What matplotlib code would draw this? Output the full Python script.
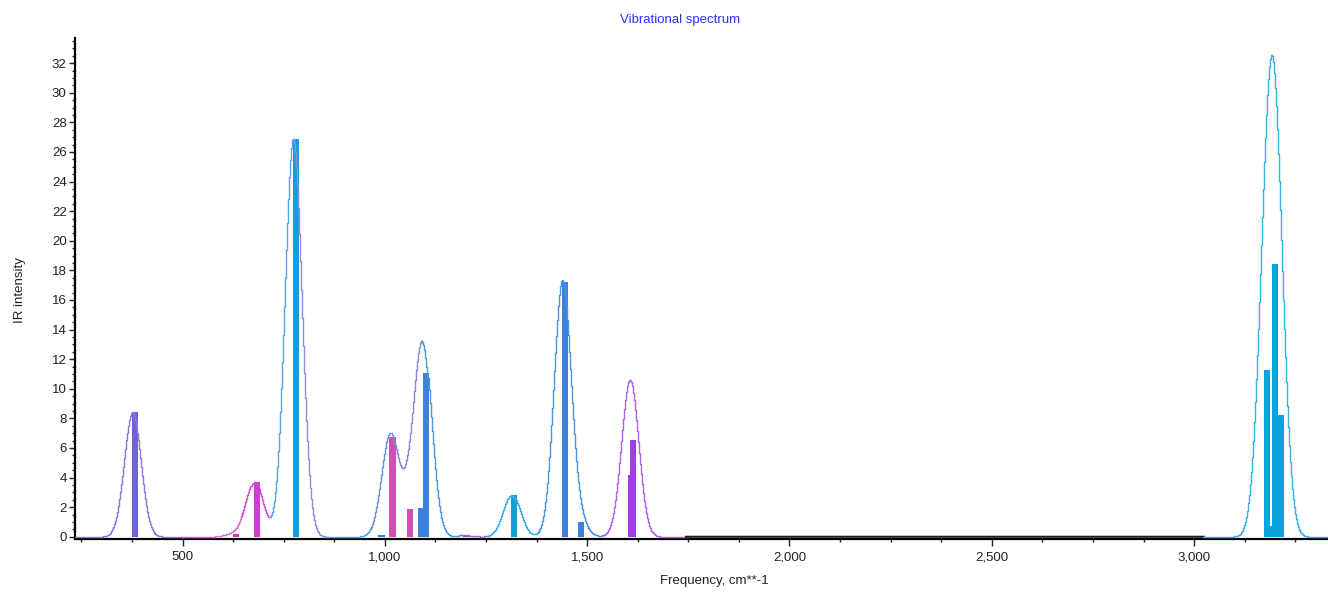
import numpy as np
import matplotlib
matplotlib.use("Agg")
import matplotlib.pyplot as plt
from matplotlib.ticker import MultipleLocator, StrMethodFormatter

# stick spectrum (frequency = left edge of each bar)
freqs = [375, 625, 676, 772, 984, 1011, 1055, 1082.5, 1093.5, 1194,
         1312, 1437, 1477, 1600, 1606, 3172, 3188.5, 3193, 3207.5]
intens = [8.4, 0.2, 3.7, 26.9, 0.1, 6.75, 1.87, 1.94, 11.06, 0.1,
          2.8, 17.2, 1.03, 4.2, 6.53, 11.3, 0.7, 18.4, 8.2]
bar_colors = ["#6c64d6", "#d23cb8", "#d03cd6", "#0ea0de", "#2a80d4", "#d050b2",
              "#d050b2", "#3c82da", "#3c82da", "#9040d0", "#10a0d2", "#3c82da",
              "#3c82da", "#a43ee4", "#a43ee4", "#0ca2de", "#0ca2de", "#0ca2de",
              "#0ca2de"]

# colour of the envelope line, by frequency range
env_breaks = [234, 500, 648, 716, 776, 855, 965, 1030, 1090, 1190, 1255,
              1380, 1540, 1746, 3023, 3331]
env_colors = ["#8a78e0", "#e064d4", "#d04ad8", "#5aa2ea", "#9a86dc", "#44ace8",
              "#6c8ee0", "#9480d8", "#4a98e4", "#a060e0", "#34ace6", "#4c92e2",
              "#b062f0", "#202020", "#34b0e8"]

half_width = 21.0   # gaussian broadening used for the envelope, cm-1
bar_w = 15.5

fig = plt.figure(figsize=(13.28, 5.94), dpi=100)
ax = fig.add_axes([75 / 1328, 55 / 594, 1253 / 1328, 501 / 594])

ax.bar(freqs, intens, width=bar_w, align="edge", color=bar_colors,
       linewidth=0, zorder=2)

# envelope = broadened stick spectrum
grid = np.arange(234, 3334, 2.5)
env = np.zeros_like(grid)
for f, s in zip(freqs, intens):
    env += s * np.exp(-(grid - f - 1.5) ** 2 / (2 * half_width ** 2))

for i, c in enumerate(env_colors):
    m = (grid >= env_breaks[i] - 2.5) & (grid <= env_breaks[i + 1] + 2.5)
    lw = 1.5 if c == "#202020" else 1.0
    ax.plot(grid[m], env[m], color=c, lw=lw, drawstyle="steps-mid", zorder=3)

ax.set_xlim(234, 3331)
ax.set_ylim(-0.15, 33.7)

for side in ("top", "right"):
    ax.spines[side].set_visible(False)
for side in ("left", "bottom"):
    ax.spines[side].set_linewidth(1.6)

ax.xaxis.set_major_locator(MultipleLocator(500))
ax.xaxis.set_minor_locator(MultipleLocator(125))
ax.xaxis.set_major_formatter(StrMethodFormatter("{x:,.0f}"))
ax.yaxis.set_major_locator(MultipleLocator(2))
ax.yaxis.set_minor_locator(MultipleLocator(0.5))

ax.tick_params(which="major", direction="out", length=4, width=1,
               labelsize=9.5, colors="#222222", pad=2)
ax.tick_params(which="minor", direction="out", length=2.5, width=1,
               colors="#222222")
ax.tick_params(axis="x", which="major", length=5, pad=4)
for lab in ax.get_xticklabels() + ax.get_yticklabels():
    lab.set_fontfamily("Liberation Sans")

ax.set_xlabel("Frequency, cm**-1", fontsize=9.5, family="Liberation Sans",
              color="#222222", va="center")
ax.xaxis.set_label_coords(0.51, -0.084)
ax.set_ylabel("IR intensity", fontsize=9.5, family="Liberation Sans",
              color="#222222", va="center")
ax.yaxis.set_label_coords(-0.044, 0.497)

fig.text(680 / 1328, 1 - 20 / 594, "Vibrational spectrum", ha="center",
         va="center", fontsize=9.5, family="Liberation Sans", color="#3030ff")

fig.savefig("out.png", dpi=100)
